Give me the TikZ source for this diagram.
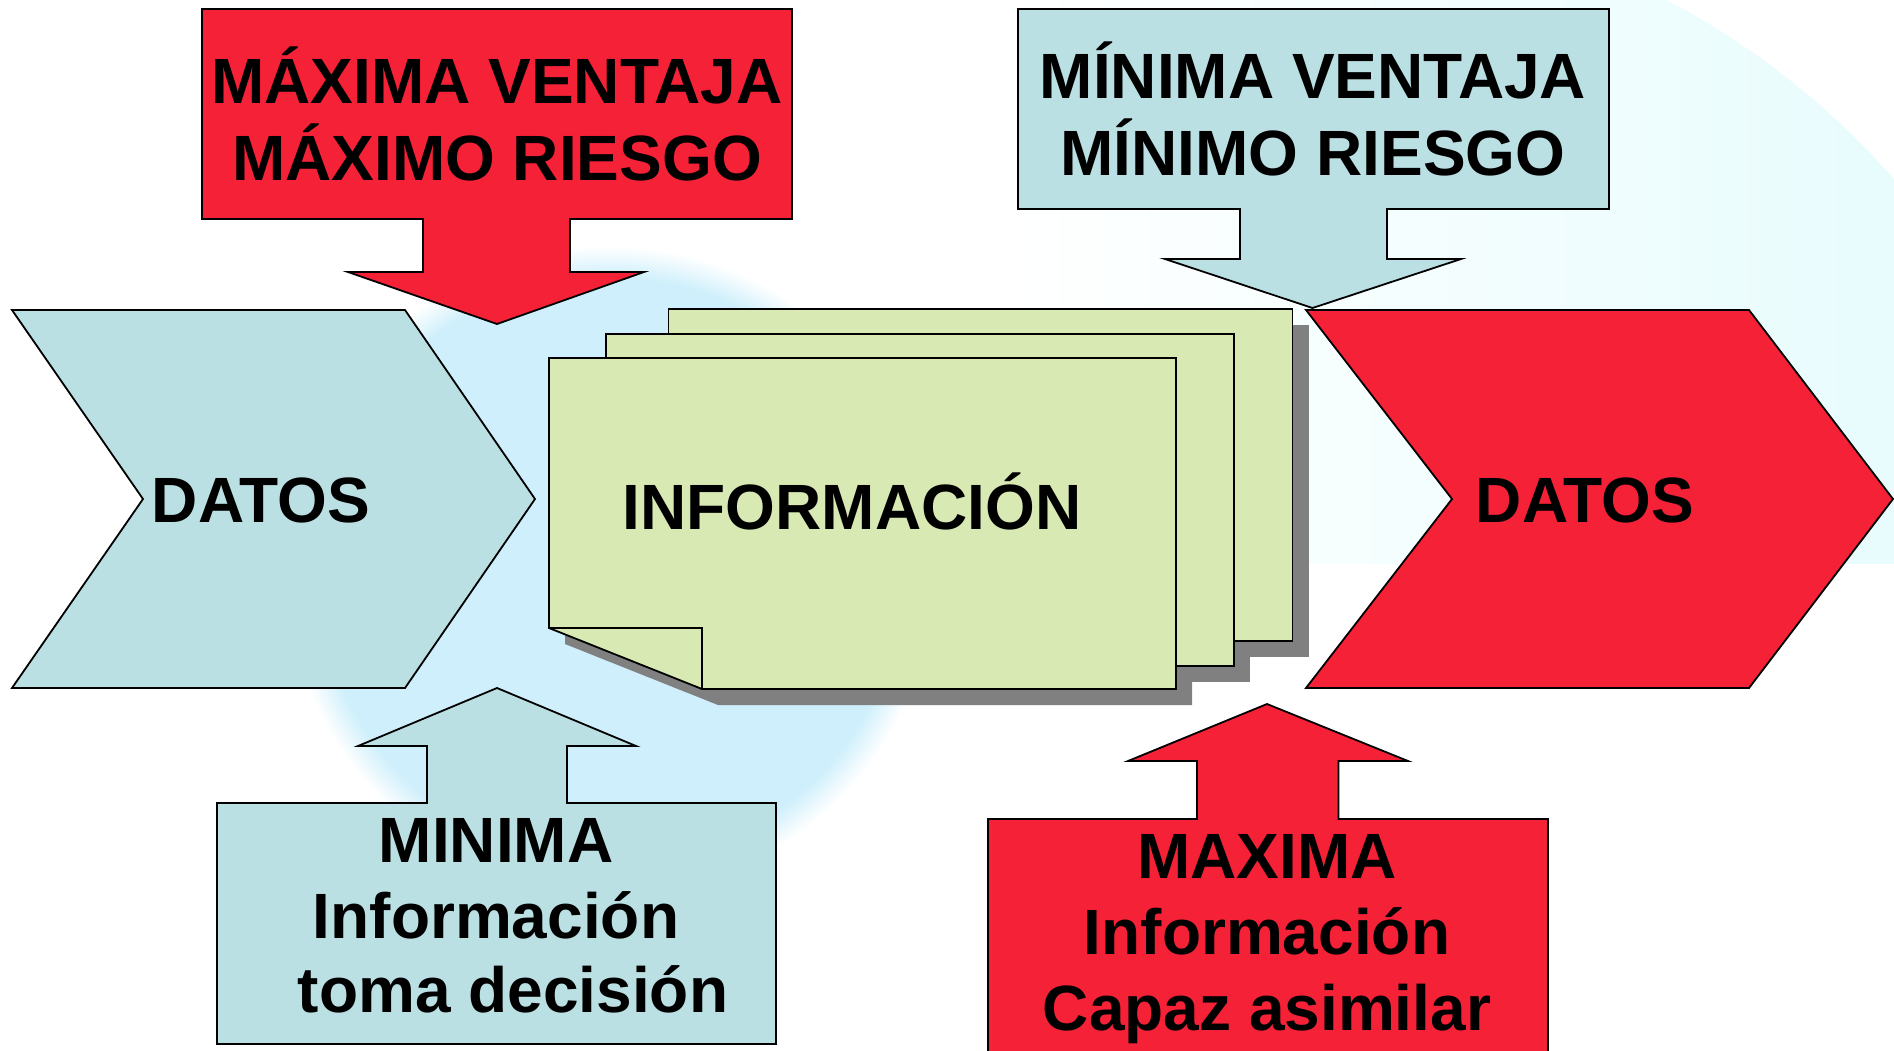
\documentclass[tikz,border=0pt]{standalone}
\usepackage{fontspec}
\setmainfont{Liberation Sans}
\definecolor{redc}{RGB}{245,33,55}
\definecolor{bluec}{RGB}{187,224,227}
\definecolor{greenc}{RGB}{216,233,180}
\definecolor{shadowc}{RGB}{128,128,128}
\definecolor{wmark}{RGB}{206,239,251}
\definecolor{wash}{RGB}{232,252,253}
\pgfdeclareradialshading{wmdisk}{\pgfpoint{0bp}{0bp}}{color(0bp)=(wmark); color(22.5bp)=(wmark); color(25bp)=(white)}
\begin{document}
\begin{tikzpicture}[x=0.5pt,y=-0.5pt,
  outl/.style={draw=black,line width=0.9pt,line join=miter},
  lbl/.style={font=\fontsize{32}{38}\selectfont\bfseries,anchor=base,inner sep=0pt}]
\clip (0,0) rectangle (1894,1050);
\fill[white] (0,0) rectangle (1894,1050);
% background watermark
\shade[shading=wmdisk] (610,570) circle (162pt);
\begin{scope}
  \clip (1300,700) circle (395pt);
  \shade[left color=white,right color=wash] (1000,0) rectangle (1894,563);
\end{scope}
% top-left callout (red, down)
\path[fill=redc,outl] (202,9) -- (792,9) -- (792,219) -- (570,219) -- (570,272) -- (644,272)
  -- (497,324) -- (348,272) -- (423,272) -- (423,219) -- (202,219) -- cycle;
% top-right callout (blue, down)
\path[fill=bluec,outl] (1018,9) -- (1609,9) -- (1609,209) -- (1387,209) -- (1387,259) -- (1461,259)
  -- (1312.5,308) -- (1165,259) -- (1240,259) -- (1240,209) -- (1018,209) -- cycle;
% chevrons
\path[fill=bluec,outl] (12,310) -- (405,310) -- (535,499) -- (405,688) -- (12,688) -- (143,499) -- cycle;
\path[fill=redc,outl] (1306,310) -- (1749,310) -- (1893,499) -- (1749,688) -- (1306,688) -- (1452,499) -- cycle;
% shadows of the back sheets (hidden inside the front sheet's area)
\begin{scope}
  \clip (0,0) -- (1894,0) -- (1894,1050) -- (0,1050) -- cycle
        (549,358) -- (549,689) -- (1176,689) -- (1176,358) -- cycle;
  \fill[shadowc] (684.5,325) rectangle (1308.5,657);
  \fill[shadowc] (622,350) rectangle (1250,682);
\end{scope}
% shadow of the front sheet
\fill[shadowc] (565,374) -- (1192,374) -- (1192,705) -- (718,705) -- (565,644) -- cycle;
% back sheets
\begin{scope}
  \clip (0,0) -- (1894,0) -- (1894,1050) -- (0,1050) -- cycle
        (549,358) -- (549,689) -- (1176,689) -- (1176,358) -- cycle;
  \path[fill=greenc,outl] (668.5,309) rectangle (1292.5,641);
  \path[fill=greenc,outl] (606,334) rectangle (1234,666);
\end{scope}
% front sheet
\path[fill=greenc,outl] (549,358) -- (1176,358) -- (1176,689) -- (702,689) -- (549,628) -- cycle;
\draw[outl] (549,628) -- (702,628) -- (702,689);
% bottom-left callout (blue, up)
\path[fill=bluec,outl] (217,1044) -- (217,803) -- (427,803) -- (427,746) -- (358,746) -- (497,688)
  -- (636,746) -- (567,746) -- (567,803) -- (776,803) -- (776,1044) -- cycle;
% bottom-right callout (red, up)
\path[fill=redc,outl] (988,1070) -- (988,819) -- (1197,819) -- (1197,761) -- (1128,761) -- (1267,704)
  -- (1408,761) -- (1338.5,761) -- (1338.5,819) -- (1548,819) -- (1548,1070) -- cycle;
% texts
\node[lbl] (t1a) at (497,103) {MÁXIMA VENTAJA};
\node[lbl] (t1b) at (497,180) {MÁXIMO RIESGO};
\node[lbl] (t2a) at (1313,98) {MÍNIMA VENTAJA};
\node[lbl] (t2b) at (1313,175) {MÍNIMO RIESGO};
\node[lbl] (d1) at (261,522) {DATOS};
\node[lbl] (info) at (852,529) {INFORMACIÓN};
\node[lbl] (d2) at (1585,522) {DATOS};
\node[lbl] (b1a) at (496,862) {MINIMA};
\node[lbl] (b1b) at (496,938) {Información};
\node[lbl] (b1c) at (513,1012) {toma decisión};
\node[lbl] (b2a) at (1267,878) {MAXIMA};
\node[lbl] (b2b) at (1267,954) {Información};
\node[lbl] (b2c) at (1267,1030) {Capaz asimilar};
\end{tikzpicture}
\end{document}
